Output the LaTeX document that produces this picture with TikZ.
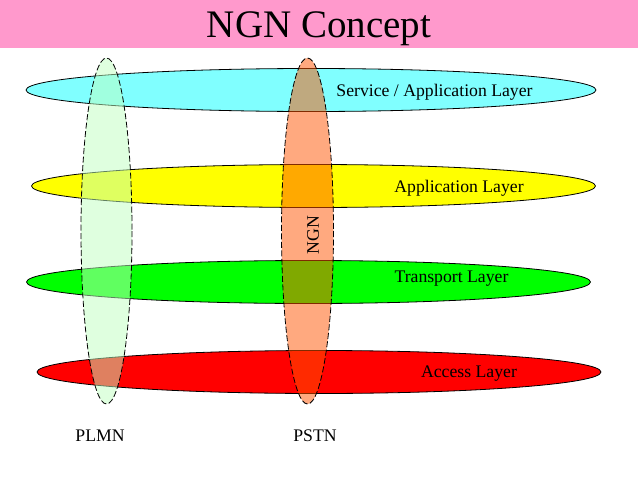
\documentclass[tikz,border=0pt]{standalone}
\usepackage{fontspec}
\setmainfont{Liberation Serif}
\definecolor{topbar}{HTML}{FF99CC}
\definecolor{svc}{HTML}{80FFFF}
\definecolor{app}{HTML}{FFFF00}
\definecolor{trn}{HTML}{00FF00}
\definecolor{acc}{HTML}{FF0000}
\definecolor{pl}{HTML}{C0FFC0}
\definecolor{ps}{HTML}{FF5500}
\tikzset{x=1pt,y=-1pt,
 layer/.style={draw=black,line width=0.8pt},
 vert/.style={draw=black,line width=0.8pt,dash pattern=on 6pt off 2.5pt,fill opacity=0.5},
 lbl/.style={font=\fontsize{17.7}{20}\selectfont,inner sep=0pt,anchor=center}}
\begin{document}
\begin{tikzpicture}
\useasboundingbox (0,0) rectangle (638,479);
\fill[white] (0,0) rectangle (638,479);
\fill[topbar] (0,0) rectangle (638,48);
\node[inner sep=0pt,font=\fontsize{39}{44}\selectfont] (title) at (319,29) {NGN Concept};
\path[layer,fill=svc] (311,90) ellipse [x radius=285,y radius=21.5];
\path[layer,fill=app] (313.5,186) ellipse [x radius=282,y radius=21.5];
\path[layer,fill=trn] (308.5,282) ellipse [x radius=282,y radius=21.5];
\path[layer,fill=acc] (319,372) ellipse [x radius=282,y radius=21.5];
\path[vert,fill=pl] (106.5,231) ellipse [x radius=25.5,y radius=173];
\path[vert,fill=ps] (307.5,231) ellipse [x radius=26,y radius=173];
\node[lbl] (a) at (434.5,92) {Service / Application Layer};
\node[lbl] (b) at (459,188) {Application Layer};
\node[lbl] (c) at (451.5,279) {Transport Layer};
\node[lbl] (d) at (469,374) {Access Layer};
\node[lbl] (e) at (100,436) {PLMN};
\node[lbl] (f) at (315,436) {PSTN};
\node[lbl,rotate=90] (g) at (313,235) {NGN};
\end{tikzpicture}
\end{document}
